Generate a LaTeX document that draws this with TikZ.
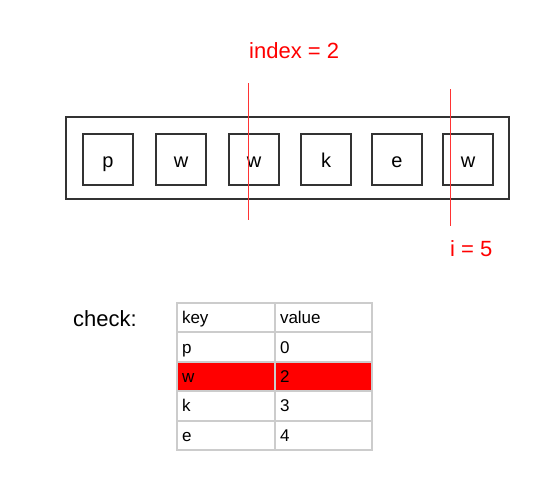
\documentclass[tikz,border=0pt]{standalone}
\usepackage{fontspec}
\setmainfont{Liberation Sans}
\usetikzlibrary{positioning}
\begin{document}
\begin{tikzpicture}[x=1pt,y=-1pt,
  frame/.style={draw=black!80,line width=1.2pt,inner sep=0pt,outer sep=0pt},
  charbox/.style={frame,minimum width=50pt,minimum height=51pt,text height=16pt,text depth=0pt,
    font=\fontsize{20}{24}\selectfont},
  marker/.style={draw=red!80,line width=1pt},
  tag/.style={text=red,font=\fontsize{22}{26}\selectfont,inner sep=0pt},
  cell/.style={draw=black!20,line width=2pt,outer sep=0pt,inner xsep=5pt,inner ysep=0pt,
    minimum height=29.4pt,text height=12pt,text depth=0pt,align=left,anchor=north west,
    font=\fontsize{17}{20}\selectfont},
  plain/.style={},
  hit/.style={fill=red}]
\useasboundingbox (0,0) rectangle (537,493);
% array of characters
\node[frame,minimum width=443pt,minimum height=82pt] (array) at (287.5,158) {};
\foreach \ch/\xx [count=\k from 0] in {p/108,w/181,w/254,k/326,e/397,w/468}
  \node[charbox] (c\k) at (\xx,159.5) {\ch};
% pointers
\coordinate (idxtop) at (248,83);
\coordinate (idxbot) at (248,220);
\coordinate (itop) at (450,89);
\coordinate (ibot) at (450,226);
\draw[marker] (idxtop) -- (idxbot);
\draw[marker] (itop) -- (ibot);
\node[tag,anchor=base west] (idxlabel) at (249,58) {index = 2};
\node[tag,anchor=base west] (ilabel) at (450,256) {i = 5};
% hash table
\node[font=\fontsize{22}{26}\selectfont,inner sep=0pt,anchor=base west] (check) at (73,326) {check:};
\foreach \kk/\vv/\st [count=\r from 0] in {key/value/plain,p/0/plain,w/2/hit,k/3/plain,e/4/plain} {
  \node[cell,\st,minimum width=98pt,text width=88pt] (key\r) at (177,303+29.4*\r) {\kk};
  \node[cell,\st,minimum width=97pt,text width=87pt] (val\r) at (key\r.north east) {\vv};
}
\end{tikzpicture}
\end{document}
